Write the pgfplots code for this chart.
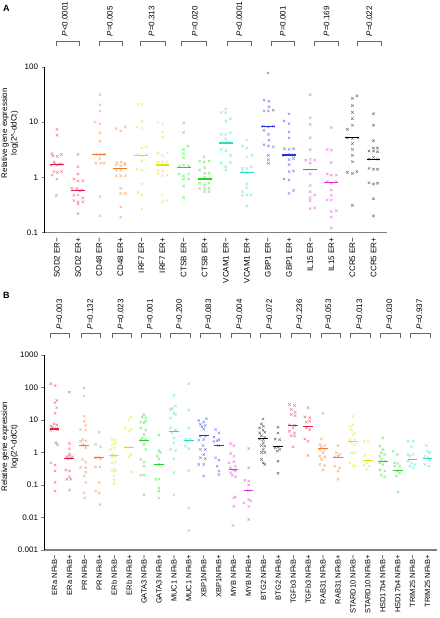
\documentclass[border=0pt]{standalone}
\usepackage{fontspec}
\setmainfont{Liberation Sans}
\usepackage{pgfplots}
\pgfplotsset{compat=1.18}
\definecolor{cRed}{RGB}{228,30,70}
\definecolor{cOrange}{RGB}{240,120,40}
\definecolor{cYellow}{RGB}{225,225,0}
\definecolor{cGreen}{RGB}{30,215,30}
\definecolor{cCyan}{RGB}{40,220,185}
\definecolor{cBlue}{RGB}{40,50,220}
\definecolor{cMag}{RGB}{215,50,215}
\definecolor{cBlack}{RGB}{0,0,0}
\newcommand{\grp}[5]{%
  \addplot[only marks, mark=x, mark size=1.7pt, color=#1, mark options={draw opacity=0.55, line width=0.5pt}] coordinates {#5};
  \addplot[color=#1, line width=1.2pt, no marks] coordinates {(#3,#2) (#4,#2)};
}
\newcommand{\brA}[4]{%
  \draw[black!60, line width=0.6pt] ([yshift=21pt]axis cs:#1,100) -- ([yshift=25.3pt]axis cs:#1,100) -- ([yshift=25.3pt]axis cs:#2,100) -- ([yshift=21pt]axis cs:#2,100);
  \node[rotate=90, anchor=west, inner sep=0pt, font=\fontsize{8}{9}\selectfont] at ([yshift=30.5pt]axis cs:#3,100) {#4};
}
\newcommand{\brB}[4]{%
  \draw[black!60, line width=0.6pt] ([yshift=17.3pt]axis cs:#1,1000) -- ([yshift=22pt]axis cs:#1,1000) -- ([yshift=22pt]axis cs:#2,1000) -- ([yshift=17.3pt]axis cs:#2,1000);
  \node[rotate=90, anchor=west, inner sep=0pt, font=\fontsize{8}{9}\selectfont] at ([yshift=25.5pt]axis cs:#3,1000) {#4};
}
\begin{document}
\begin{tikzpicture}
\useasboundingbox (0,0) rectangle (439pt,-618pt);
\node[font=\bfseries\fontsize{9}{10}\selectfont, anchor=north west, inner sep=0pt] at (3pt,-5pt) {A};
\node[font=\bfseries\fontsize{9}{10}\selectfont, anchor=north west, inner sep=0pt] at (3pt,-292pt) {B};
% ---------------- Panel A ----------------
\begin{axis}[
  scale only axis, ymode=log, clip=false,
  axis x line*=bottom, axis y line*=left,
  x axis line style={draw=black!50, line width=1.2pt},
  y axis line style={draw=black, line width=0.6pt},
  tick align=outside, major tick length=3pt,
  major x tick style={draw=none},
  minor y tick style={draw=none},
  /pgf/number format/assume math mode=true,
  yticklabel style={font=\fontsize{8}{9}\selectfont},
  xticklabel style={rotate=90, anchor=east, inner sep=2pt, font=\fontsize{8}{9}\selectfont},
  ylabel={Relative gene expression\\log(2\textasciicircum{}-ddCt)},
  ylabel style={align=center, font=\fontsize{8}{9.5}\selectfont, at={(axis description cs:-0.076,0.6)}, anchor=south, inner sep=0pt},
  width=342.5pt, height=165.5pt,
  at={(44.5pt,-232.5pt)}, anchor=south west,
  ymin=0.1, ymax=100, xmin=-0.59, xmax=15.64,
  ytick={0.1,1,10,100}, yticklabels={0.1,1,10,100},
  xtick={0,...,15},
  xticklabels={SOD2 ER−,SOD2 ER+,CD48 ER−,CD48 ER+,IRF7 ER−,IRF7 ER+,CTSB ER−,CTSB ER+,VCAM1 ER−,VCAM1 ER+,GBP1 ER−,GBP1 ER+,IL15 ER−,IL15 ER+,CCR5 ER−,CCR5 ER+},
]
\grp{cRed}{1.72}{-0.33}{0.33}{(0,7.4)(0,5.8)(-0.24,2.7)(0.02,2.4)(0.21,2.6)(-0.19,2.45)(-0.14,1.9)(0,1.67)(0.21,1.74)(-0.27,1.65)(-0.14,1.27)(0.02,1.23)(0.21,1.27)(-0.22,1.1)(0,0.93)(-0.03,0.47)(0.1,1.72)(-0.1,1.75)}
\grp{cRed}{0.57}{0.67}{1.33}{(1,2.6)(1,1.56)(1,1.15)(0.8,0.93)(1,0.86)(1.22,0.87)(0.71,0.63)(0.95,0.63)(1.19,0.59)(0.8,0.47)(1,0.48)(1.22,0.42)(0.8,0.38)(1,0.36)(1.22,0.36)(1,0.33)(1,0.22)(1.1,0.57)}
\grp{cOrange}{2.6}{1.67}{2.33}{(2.03,31.6)(2.03,20.6)(2.03,16)(1.8,10)(2.03,9.4)(2.03,6.4)(2.03,4.5)(1.84,2.6)(2.24,2.6)(2.03,2.2)(1.84,1.8)(2.08,1.8)(2.24,1.8)(2.03,0.45)(2.03,0.2)(2.05,2.6)}
\grp{cOrange}{1.43}{2.67}{3.33}{(2.81,7.6)(3.02,6.9)(3.24,8.2)(2.84,1.86)(3.05,1.9)(3.21,1.8)(2.81,1.67)(3.02,1.62)(3.21,1.67)(2.81,1.35)(3.02,1.35)(2.81,1.07)(3.02,1.07)(3.24,1.07)(3.02,0.63)(3.02,0.51)(3.24,0.51)(3.02,0.29)(3.02,0.19)}
\grp{cYellow}{2.5}{3.67}{4.33}{(3.84,21)(4.03,21)(4.03,10.4)(3.79,8.2)(4.03,7.8)(4.03,3.4)(4.24,3.6)(3.84,2.6)(4.03,2.45)(4.24,2.6)(4.03,1.97)(3.79,1.4)(4.03,1.35)(4.03,0.75)(3.84,0.53)(4.03,0.48)(4.03,0.27)}
\grp{cYellow}{1.67}{4.67}{5.33}{(4.79,10)(5,9.4)(5,6.6)(5,5.4)(4.79,2.7)(5.24,2.8)(5,2.5)(4.79,1.9)(5,1.9)(5.19,1.9)(4.79,1.36)(5,1.3)(4.79,1.18)(5,1.07)(5.22,1.1)(5,0.48)(5,0.36)(5.22,0.38)(5.1,1.67)}
\grp{cGreen}{1.53}{5.67}{6.33}{(6,9.7)(6,6.5)(6.21,3.7)(6,3.2)(6,2.7)(6,2.26)(5.81,1.6)(6,1.67)(6.24,1.6)(5.78,1.15)(6,1.07)(6.24,1.15)(6,0.93)(6.24,0.93)(6,0.7)(6,0.43)}
\grp{cGreen}{0.93}{6.67}{7.33}{(6.97,2.36)(6.76,1.97)(7.21,1.97)(6.97,1.9)(7,1.5)(6.76,1.35)(7,1.18)(7.21,1.18)(6.76,0.93)(7,1.0)(7.21,0.93)(6.76,0.78)(7,0.73)(7.21,0.78)(6.76,0.63)(7,0.63)(7.21,0.63)(7,0.55)(7.21,0.55)}
\grp{cCyan}{4.2}{7.67}{8.33}{(7.79,15)(8,14.8)(8,17.5)(8,10.5)(8.22,11.6)(7.79,6)(8,6)(8.22,6.4)(8,5)(7.79,3.2)(8,3)(8.22,2.5)(7.79,1.8)(8,1.56)(8.22,1.86)(8,1.36)(8.05,4.3)}
\grp{cCyan}{1.21}{8.67}{9.33}{(9,4.7)(8.79,3.7)(9,3.4)(9.24,2.5)(9,2.36)(8.79,1.45)(9,1.45)(9.21,1.56)(8.79,1.27)(9,1.23)(9,0.76)(9,0.65)(8.79,0.55)(9.21,0.48)(8.79,0.47)(9,0.48)(9,0.3)}
\grp{cBlue}{8.4}{9.67}{10.33}{(10,78)(9.81,25)(10.05,24)(10.05,19)(9.81,16)(10.02,16)(10.25,16.4)(9.78,8.4)(10.02,8.2)(10.25,8.4)(9.81,7.1)(10.02,6)(10.05,4.7)(9.81,3.9)(10.02,3.7)(10.25,3.6)(10.02,2.5)(10.02,2.1)(10.02,1.8)}
\grp{cBlue}{2.53}{10.67}{11.33}{(11,14.2)(10.76,10.5)(11,9.4)(11,6.6)(11,5.2)(10.78,3.3)(11,3.2)(11.21,3.3)(10.76,2.5)(11,2.6)(11.21,2.5)(11,2.1)(11.21,2.2)(11,1.7)(11,1.27)(11.21,1.3)(10.76,0.93)(11,0.9)(11,0.51)(11.21,0.58)}
\grp{cMag}{1.37}{11.67}{12.33}{(12,31.6)(12,12)(12,9.1)(12,5.2)(12,3.2)(11.78,2.05)(12,2.1)(12,1.8)(12.21,2.05)(12,1.15)(12,0.71)(12,0.55)(12.21,0.48)(12,0.43)(12,0.38)(12,0.27)(12.21,0.28)}
\grp{cMag}{0.8}{12.67}{13.33}{(13,8)(12.81,3.2)(13,3.1)(13,1.86)(12.81,1.15)(13,1.1)(13.24,1.1)(12.81,0.84)(13,0.78)(13.24,0.84)(13,0.59)(13,0.47)(13,0.39)(12.81,0.39)(13,0.24)(13.24,0.25)(13,0.19)(13,0.12)}
\grp{cBlack}{5.2}{13.67}{14.33}{(14,27)(14.21,30)(14,20)(14,15)(14,11.6)(14,8.8)(13.76,7.4)(13.76,5.2)(14,5.1)(14.27,5.2)(14,4.1)(14,3.2)(14,2.5)(14,1.92)(13.76,1.23)(14,1.18)(14.21,1.27)(14,0.31)}
\grp{cBlack}{2.14}{14.67}{15.33}{(15,14.2)(15,8.8)(15,4.6)(14.79,3)(15,3)(15.19,2.9)(15,3.4)(15.19,3.4)(14.79,2.14)(15,2.3)(15.19,2.14)(14.79,1.45)(15,1.4)(15.19,1.4)(14.79,0.8)(15,0.76)(15.19,0.78)(15,0.41)(15,0.2)}
\brA{-0.05}{1.04}{0.38}{{\itshape P}<0.0001}
\brA{1.99}{3.11}{2.51}{{\itshape P}=0.005}
\brA{3.93}{5.12}{4.49}{{\itshape P}=0.313}
\brA{5.91}{7.10}{6.54}{{\itshape P}=0.020}
\brA{8.07}{9.19}{8.64}{{\itshape P}<0.0001}
\brA{10.14}{11.25}{10.70}{{\itshape P}=0.001}
\brA{12.19}{13.32}{12.78}{{\itshape P}=0.169}
\brA{14.25}{15.39}{14.80}{{\itshape P}=0.022}
\end{axis}
% ---------------- Panel B ----------------
\begin{axis}[
  scale only axis, ymode=log, clip=false,
  axis x line*=bottom, axis y line*=left,
  x axis line style={draw=black!50, line width=1.2pt},
  y axis line style={draw=black, line width=0.6pt},
  tick align=outside, major tick length=3pt,
  major x tick style={draw=none},
  minor y tick style={draw=none},
  /pgf/number format/assume math mode=true,
  yticklabel style={font=\fontsize{8}{9}\selectfont},
  xticklabel style={rotate=90, anchor=east, inner sep=2pt, font=\fontsize{7.5}{9}\selectfont},
  ylabel={Relative gene expression\\log(2\textasciicircum{}-ddCt)},
  ylabel style={align=center, font=\fontsize{8}{9.5}\selectfont, at={(axis description cs:-0.066,0.53)}, anchor=south, inner sep=0pt},
  width=392.5pt, height=195pt,
  at={(44.5pt,-550pt)}, anchor=south west,
  ymin=0.001, ymax=1000, xmin=-0.67, xmax=25.64,
  ytick={0.001,0.01,0.1,1,10,100,1000}, yticklabels={0.001,0.01,0.1,1,10,100,1000},
  xtick={0,...,25},
  xticklabels={ERa NFkB−,ERa NFkB+,PR NFkB−,PR NFkB+,ERb NFkB−,ERb NFkB+,GATA3 NFkB−,GATA3 NFkB+,MUC1 NFkB−,MUC1 NFkB+,XBP1NFkB−,XBP1NFkB+,MYB NFkB−,MYB NFkB+,BTG2 NFkB−,BTG2 NFkB+,TGFb3 NFkB−,TGFb3 NFkB+,RAB31 NFkB−,RAB31 NFkB+,STARD10 NFkB−,STARD10 NFkB+,HSD17b4 NFkB−,HSD17b4 NFkB+,TRIM25 NFkB−,TRIM25 NFkB+},
]
\grp{cRed}{5.3}{-0.33}{0.33}{(-0.25,130)(0.04,115)(0.15,40)(0.04,34)(0.15,24)(0.04,16)(-0.02,7.6)(0.15,7)(-0.25,6.5)(-0.13,6)(0.15,5.5)(-0.02,5.3)(0.2,5)(-0.25,4.8)(0.09,2)(0.2,1.76)(-0.25,0.48)(0.04,0.41)(0.04,0.27)(0.04,0.12)(0.04,0.065)}
\grp{cRed}{0.65}{0.67}{1.33}{(1,72)(1,1.9)(1,1.3)(1,0.9)(0.82,0.74)(1,0.77)(1.2,0.74)(0.75,0.29)(1,0.27)(0.82,0.15)(1,0.18)(1.09,0.15)(1,0.07)(0.9,0.65)(1.1,0.66)}
\grp{cOrange}{1.64}{1.67}{2.33}{(2,95)(2,55)(2,13)(2,9.2)(2.09,6.8)(1.75,5.1)(2.09,4.9)(1.87,2.5)(2.09,2.3)(1.75,2.2)(1.87,1.76)(2.09,1.4)(1.87,0.61)(2.09,0.5)(1.75,0.35)(2.09,0.34)(2.09,0.25)(2,0.19)(2.09,0.12)(2,0.057)(2.02,0.04)(2,1.64)}
\grp{cOrange}{0.69}{2.67}{3.33}{(3,4.2)(2.75,1.76)(3.09,1.5)(2.75,0.69)(3.09,0.64)(2.75,0.36)(3.04,0.36)(3,0.12)(2.75,0.065)(3,0.057)(3.04,0.025)(3,0.7)}
\grp{cYellow}{0.81}{3.67}{4.33}{(3.87,2.5)(4.09,2.4)(3.87,1.76)(4.09,1.9)(4,1.4)(3.75,1.24)(3.87,0.87)(4.09,0.77)(3.87,0.74)(3.87,0.48)(4.09,0.5)(4,0.3)(3.87,0.27)(4.09,0.28)(4,0.19)(4,0.14)(4,0.11)(4,0.81)}
\grp{cYellow}{1.46}{4.67}{5.33}{(5.13,12.5)(5,10.4)(4.75,5.7)(5.13,5)(5,4.5)(4.75,1.46)(5.09,1.46)(5.13,0.87)(5,0.74)(5.13,0.25)}
\grp{cGreen}{2.4}{5.67}{6.33}{(6,14.7)(5.89,12.5)(6.11,11.7)(6,8.2)(5.78,8.6)(6.11,9.2)(5.78,5.7)(6.11,4.9)(6,3.6)(5.89,2.8)(5.78,2.4)(6.11,2.5)(6,1.76)(6.11,1.24)(5.78,0.61)(6,0.5)(6,0.38)(5.78,0.2)(6,0.2)(6,0.05)}
\grp{cGreen}{0.43}{6.67}{7.33}{(7,3.4)(7,1.15)(7.11,1.0)(6.89,0.77)(7,0.64)(6.78,0.15)(7,0.15)(7,0.08)(7,0.065)(7,0.04)(7,0.43)}
\grp{cCyan}{4.5}{7.67}{8.33}{(8,57)(7.89,23)(8.11,27)(7.78,21)(8,16.6)(8.11,14.7)(7.78,11.6)(7.78,5.7)(8.11,4.9)(7.89,4)(8,2.8)(8,2)(7.78,1.24)(8.11,1.15)(8,0.64)(8,0.24)(8,0.05)}
\grp{cCyan}{2.4}{8.67}{9.33}{(9,130)(9,20)(9,5.7)(8.78,2.5)(9.11,2.6)(8.89,2.2)(8.78,1.57)(9,1.3)(9,0.28)(9,0.02)(9,0.004)}
\grp{cBlue}{3.3}{9.67}{10.33}{(9.67,9.6)(10,8.6)(9.78,7.3)(10.18,11)(9.89,6.2)(10.11,6.8)(10,5.3)(9.78,3.2)(10.11,3.2)(10,2.5)(9.67,2.4)(9.96,1.64)(9.78,1.24)(10.11,1.24)(10,0.87)(9.78,0.69)(10.11,0.65)(9.67,0.43)(10,0.43)(10,0.19)}
\grp{cBlue}{1.64}{10.67}{11.33}{(10.8,5.1)(11.02,4)(10.69,3)(11.02,2.5)(10.69,2.2)(10.91,2.3)(10.8,0.69)(11.02,0.58)(10.91,0.38)(11.02,0.27)(11.02,0.21)(11,1.64)}
\grp{cMag}{0.3}{11.67}{12.33}{(11.8,1.9)(12.02,1.64)(11.8,0.93)(12.02,0.77)(11.69,0.48)(12.02,0.52)(12.13,0.38)(11.8,0.34)(12.02,0.29)(11.8,0.24)(12.13,0.27)(11.91,0.2)(12.13,0.18)(12.02,0.04)(12.13,0.043)(12.02,0.022)(11.96,0.0057)}
\grp{cMag}{0.068}{12.67}{13.33}{(13.02,1.33)(13.02,0.34)(12.75,0.14)(13.02,0.13)(13.02,0.1)(12.71,0.028)(13.02,0.036)(13.15,0.032)(13.02,0.022)(13.02,0.0087)(13,0.068)}
\grp{cBlack}{2.7}{13.67}{14.33}{(13.98,10.8)(13.87,7.6)(14,6.4)(13.75,5.7)(13.98,4.9)(14.09,4.2)(13.75,4)(13.87,3.3)(14.09,2.9)(13.75,2.6)(14,2.5)(14,1.98)(13.87,1.64)(14.09,1.57)(14,1.24)(13.87,1)(14.09,1)(13.87,0.61)(14,0.48)(14.09,0.43)}
\grp{cBlack}{1.49}{14.67}{15.33}{(14.98,6)(14.98,4)(14.8,2.6)(15.09,2.5)(14.8,1.4)(15.09,1.24)(14.93,1.1)(14.98,0.54)(14.98,0.23)(15,1.49)}
\grp{cRed}{6.9}{15.67}{16.33}{(15.75,30)(16.09,28)(15.87,21)(16.13,17.3)(15.87,14.7)(16.13,13.7)(15.75,7)(16.09,6.8)(16,5.7)(15.75,4.5)(16.09,4)(15.87,3.3)(16.09,3.2)(16,1.49)}
\grp{cRed}{6.2}{16.67}{17.33}{(17,24)(16.78,12.5)(17.11,11.7)(16.89,8.6)(17.11,9.2)(16.89,5.7)(17.11,5)(16.78,2.6)(17,2.2)(17,0.81)}
\grp{cOrange}{1.3}{17.67}{18.33}{(18,15.8)(17.89,2.6)(17.78,1.76)(18.11,1.64)(17.89,1.5)(17.78,1.24)(18.11,1.24)(18,0.98)(17.78,0.77)(18.11,0.74)(17.89,0.61)(17.78,0.43)(18.11,0.4)(18,0.29)}
\grp{cOrange}{0.69}{18.67}{19.33}{(19,1.64)(18.89,0.98)(19.11,0.87)(18.78,0.74)(19,0.77)(18.78,0.38)(19.11,0.34)(19,0.27)(19,0.15)}
\grp{cYellow}{2.2}{19.67}{20.33}{(20,13)(20,7.2)(19.8,6.2)(19.91,4.9)(20.13,4)(20,3.6)(19.8,2.5)(20.13,2.5)(19.91,1.98)(20.13,1.76)(19.91,0.98)(20.13,1)(19.8,0.48)(20.02,0.4)(20.13,0.38)}
\grp{cYellow}{0.58}{20.67}{21.33}{(20.75,2.2)(21.02,2.2)(20.8,0.81)(21.02,0.6)(20.91,0.48)(20.75,0.4)(21.07,0.38)(20.91,0.3)}
\grp{cGreen}{0.54}{21.67}{22.33}{(22,2.8)(21.8,1.57)(22.02,1.24)(21.91,0.98)(22.13,0.87)(21.8,0.77)(21.91,0.61)(22.13,0.54)(21.8,0.48)(22.02,0.43)(21.8,0.29)(22.13,0.27)(21.91,0.2)(22.13,0.18)}
\grp{cGreen}{0.28}{22.67}{23.33}{(22.69,1.1)(22.98,0.87)(22.8,0.48)(23.02,0.46)(22.8,0.38)(23.13,0.38)(22.98,0.27)(23.13,0.24)(22.91,0.19)(23.02,0.062)}
\grp{cCyan}{0.61}{23.67}{24.33}{(23.71,2.2)(24.04,2.2)(23.93,1.49)(23.71,0.87)(24.04,0.87)(23.82,0.77)(23.71,0.54)(23.93,0.48)(24.15,0.43)(23.82,0.38)(24.04,0.34)}
\grp{cCyan}{0.64}{24.67}{25.33}{(24.93,1.64)(25,1.1)(25.15,1)(24.82,0.77)(25.04,0.69)(25.15,0.58)(24.82,0.43)(25.09,0.38)}
\brB{-0.30}{0.99}{0.32}{{\itshape P}=0.003}
\brB{1.82}{3.10}{2.38}{{\itshape P}=0.132}
\brB{3.90}{5.17}{4.44}{{\itshape P}=0.023}
\brB{5.84}{7.12}{6.40}{{\itshape P}=0.001}
\brB{7.79}{9.08}{8.36}{{\itshape P}=0.200}
\brB{9.75}{11.09}{10.31}{{\itshape P}=0.083}
\brB{11.88}{13.15}{12.39}{{\itshape P}=0.004}
\brB{13.82}{15.11}{14.40}{{\itshape P}=0.072}
\brB{15.85}{17.17}{16.41}{{\itshape P}=0.236}
\brB{17.86}{19.13}{18.35}{{\itshape P}=0.053}
\brB{19.85}{21.15}{20.43}{{\itshape P}=0.013}
\brB{21.86}{23.16}{22.44}{{\itshape P}=0.030}
\brB{23.83}{25.17}{24.45}{{\itshape P}=0.937}
\end{axis}
\end{tikzpicture}
\end{document}
